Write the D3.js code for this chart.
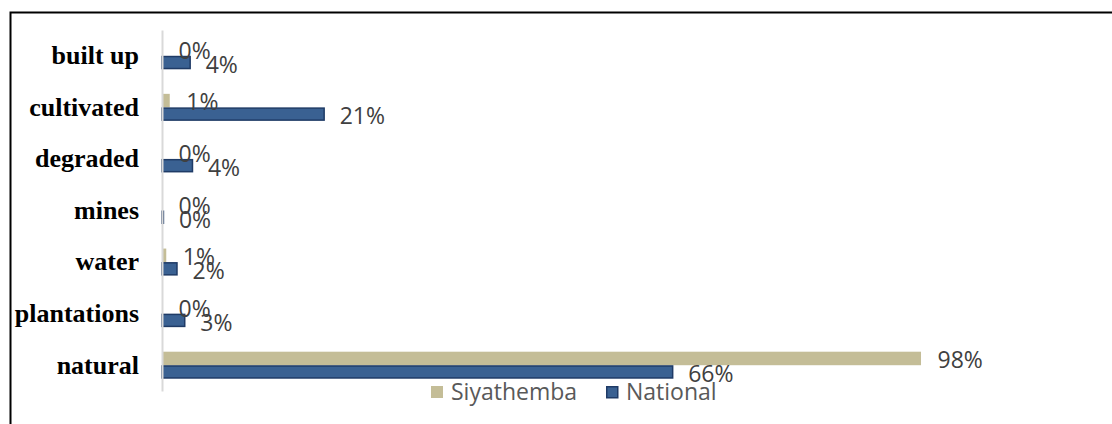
<!DOCTYPE html>
<html>
<head>
<meta charset="utf-8">
<script src="https://cdn.jsdelivr.net/npm/d3@7"></script>
<style>
  body { margin: 0; background: #fff; }
  svg { display: block; }
</style>
</head>
<body>
<div id="chart"></div>
<script>
// land cover share, %
var categories = ["built up", "cultivated", "degraded", "mines", "water", "plantations", "natural"];
var siyathemba = [0, 1.0, 0, 0, 0.55, 0, 98];
var national = [3.7, 21, 4.0, 0.25, 2.0, 3.0, 66];
var seriesNames = ["Siyathemba", "National"];

var W = 1112, H = 424;
var margin = {top: 30, left: 162, bottom: 33};

var svg = d3.select("#chart").append("svg")
    .attr("width", W)
    .attr("height", H);

// outer frame (cut off at right and bottom)
svg.append("rect")
    .attr("x", 10.5).attr("y", 12.5)
    .attr("width", W).attr("height", H)
    .attr("fill", "none")
    .attr("stroke", "#000")
    .attr("stroke-width", 2);

var x = d3.scaleLinear()
    .domain([0, 100])
    .range([margin.left, margin.left + 774.5]);

var y0 = d3.scaleBand()
    .domain(categories)
    .range([margin.top, H - margin.bottom])
    .paddingInner(0.476)
    .paddingOuter(0.238);

var y1 = d3.scaleBand()
    .domain(seriesNames)
    .range([0, y0.bandwidth()]);

var colors = {Siyathemba: "#c4bd97", National: "#3a6192"};
var strokes = {Siyathemba: "none", National: "#1f3b66"};

var data = categories.map(function(c, i) {
  return {cat: c, values: [
    {key: "Siyathemba", value: siyathemba[i]},
    {key: "National", value: national[i]}
  ]};
});

var groups = svg.append("g")
    .selectAll("g")
    .data(data)
    .enter().append("g")
      .attr("transform", function(d) { return "translate(0," + y0(d.cat) + ")"; });

groups.selectAll("rect")
    .data(function(d) { return d.values; })
    .enter().append("rect")
      .attr("x", x(0))
      .attr("y", function(d) { return y1(d.key) + (d.key == "National" ? 0.75 : 0); })
      .attr("width", function(d) { return Math.max(0, x(d.value) - x(0) - (d.key == "National" ? 0.5 : 0)); })
      .attr("height", function(d) { return y1.bandwidth() - (d.key == "National" ? 1.5 : 0); })
      .attr("fill", function(d) { return colors[d.key]; })
      .attr("stroke", function(d) { return strokes[d.key]; })
      .attr("stroke-width", 1.5);

groups.selectAll("text")
    .data(function(d) { return d.values; })
    .enter().append("text")
      .attr("x", function(d) { return x(d.value) + (d.key == "National" ? 15 : 16.5); })
      .attr("y", function(d) { return y1(d.key) + y1.bandwidth() / 2 + (d.key == "National" ? 2 : 1.5); })
      .attr("dy", "0.36em")
      .attr("font-family", "'Open Sans', sans-serif")
      .attr("font-size", 23)
      .attr("fill", "#404040")
      .text(function(d) { return Math.round(d.value) + "%"; });

// category axis
var axis = svg.append("g")
    .attr("transform", "translate(" + x(0) + ",0)")
    .call(d3.axisLeft(y0).tickSize(0).tickPadding(23));

axis.select(".domain")
    .attr("stroke", "#d9d9d9")
    .attr("stroke-width", 2);

axis.selectAll("text")
    .attr("font-family", "'Liberation Serif', 'Times New Roman', serif")
    .attr("font-weight", "bold")
    .attr("font-size", 26)
    .attr("fill", "#000");

// legend
var legendX = [431, 606];
var legend = svg.append("g")
    .selectAll("g")
    .data(seriesNames)
    .enter().append("g")
      .attr("transform", function(d, i) { return "translate(" + legendX[i] + ",386)"; });

legend.append("rect")
    .attr("x", function(d) { return d == "National" ? 0.75 : 0; })
    .attr("y", function(d) { return d == "National" ? 0.75 : 0; })
    .attr("width", function(d) { return d == "National" ? 11 : 12; })
    .attr("height", function(d) { return d == "National" ? 11 : 12; })
    .attr("fill", function(d) { return colors[d]; })
    .attr("stroke", function(d) { return strokes[d]; })
    .attr("stroke-width", 1.5);

legend.append("text")
    .attr("x", 20)
    .attr("y", 6)
    .attr("dy", "0.36em")
    .attr("font-family", "'Open Sans', sans-serif")
    .attr("font-size", 23)
    .attr("fill", "#595959")
    .text(function(d) { return d; });
</script>
</body>
</html>
